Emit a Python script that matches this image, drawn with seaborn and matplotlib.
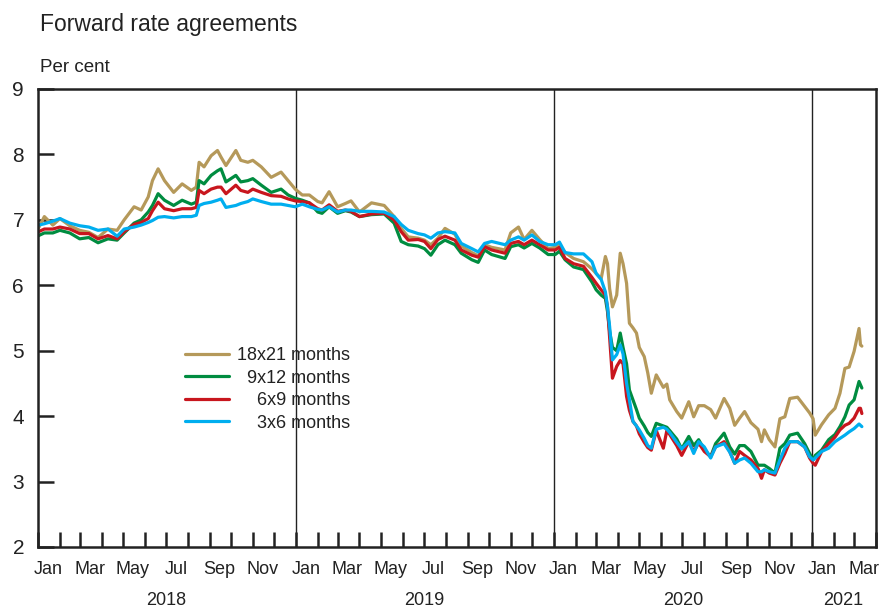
import pandas as pd
import numpy as np
import seaborn as sns
import matplotlib.pyplot as plt
import matplotlib.dates as mdates

# values (per cent)
dates = [
    "2018-01-02", "2018-01-10", "2018-01-22", "2018-02-01", "2018-02-15", "2018-03-01",
    "2018-03-14", "2018-03-27", "2018-04-10", "2018-04-23", "2018-05-03", "2018-05-17",
    "2018-05-27", "2018-06-06", "2018-06-12", "2018-06-20", "2018-06-29", "2018-07-12",
    "2018-07-24", "2018-08-06", "2018-08-13", "2018-08-17", "2018-08-24", "2018-09-03",
    "2018-09-12", "2018-09-17", "2018-09-24", "2018-10-08", "2018-10-15", "2018-10-25",
    "2018-11-01", "2018-11-13", "2018-11-27", "2018-12-11", "2018-12-21", "2018-12-31",
    "2019-01-10", "2019-01-20", "2019-02-01", "2019-02-07", "2019-02-17", "2019-03-01",
    "2019-03-12", "2019-03-20", "2019-04-01", "2019-04-18", "2019-05-06", "2019-05-20",
    "2019-05-30", "2019-06-09", "2019-06-23", "2019-07-02", "2019-07-11", "2019-07-21",
    "2019-07-31", "2019-08-14", "2019-08-23", "2019-09-07", "2019-09-16", "2019-09-25",
    "2019-10-05", "2019-10-24", "2019-11-01", "2019-11-12", "2019-11-20", "2019-12-01",
    "2019-12-12", "2019-12-24", "2020-01-03", "2020-01-09", "2020-01-17", "2020-01-29",
    "2020-02-12", "2020-02-24", "2020-03-01", "2020-03-08", "2020-03-14", "2020-03-17",
    "2020-03-20", "2020-03-24", "2020-03-30", "2020-04-04", "2020-04-08", "2020-04-13",
    "2020-04-17", "2020-04-22", "2020-04-27", "2020-05-01", "2020-05-08", "2020-05-13",
    "2020-05-18", "2020-05-25", "2020-06-04", "2020-06-09", "2020-06-13", "2020-06-23",
    "2020-06-30", "2020-07-10", "2020-07-17", "2020-07-24", "2020-08-01", "2020-08-10",
    "2020-08-17", "2020-08-29", "2020-09-06", "2020-09-13", "2020-09-20", "2020-09-27",
    "2020-10-06", "2020-10-16", "2020-10-21", "2020-10-25", "2020-11-01", "2020-11-09",
    "2020-11-16", "2020-11-23", "2020-11-30", "2020-12-11", "2020-12-21", "2020-12-28",
    "2021-01-02", "2021-01-05", "2021-01-14", "2021-01-24", "2021-02-02", "2021-02-09",
    "2021-02-16", "2021-02-22", "2021-03-01", "2021-03-08", "2021-03-10", "2021-03-12",
]

fra_18x21 = [
    6.88, 7.05, 6.92, 7.02, 6.91, 6.84, 6.81, 6.73, 6.86, 6.84, 7.00, 7.20,
    7.15, 7.35, 7.60, 7.78, 7.60, 7.42, 7.55, 7.45, 7.50, 7.88, 7.81, 7.98,
    8.06, 7.96, 7.83, 8.06, 7.91, 7.88, 7.91, 7.81, 7.65, 7.73, 7.60, 7.47,
    7.38, 7.38, 7.28, 7.26, 7.43, 7.20, 7.25, 7.29, 7.12, 7.26, 7.22, 7.05,
    6.87, 6.74, 6.72, 6.69, 6.62, 6.72, 6.87, 6.78, 6.60, 6.50, 6.45, 6.62,
    6.58, 6.54, 6.80, 6.89, 6.70, 6.84, 6.70, 6.56, 6.58, 6.62, 6.50, 6.41,
    6.36, 6.25, 6.18, 6.10, 6.44, 6.33, 5.95, 5.67, 5.85, 6.49, 6.33, 6.03,
    5.42, 5.35, 5.27, 5.05, 4.91, 4.66, 4.35, 4.63, 4.44, 4.49, 4.25, 4.07,
    3.97, 4.22, 3.99, 4.16, 4.16, 4.10, 3.97, 4.27, 4.12, 3.86, 3.97, 4.07,
    3.90, 3.80, 3.61, 3.79, 3.64, 3.53, 3.96, 3.99, 4.27, 4.29, 4.15, 4.05,
    3.96, 3.71, 3.87, 4.02, 4.12, 4.35, 4.73, 4.75, 4.99, 5.34, 5.09, 5.07,
]

fra_9x12 = [
    6.76, 6.80, 6.80, 6.84, 6.80, 6.71, 6.73, 6.65, 6.71, 6.69, 6.80, 6.95,
    7.00, 7.12, 7.22, 7.40, 7.30, 7.22, 7.30, 7.24, 7.27, 7.60, 7.55, 7.68,
    7.75, 7.78, 7.58, 7.68, 7.58, 7.60, 7.63, 7.53, 7.42, 7.47, 7.38, 7.33,
    7.30, 7.26, 7.12, 7.10, 7.20, 7.10, 7.14, 7.12, 7.05, 7.08, 7.09, 6.95,
    6.67, 6.62, 6.60, 6.56, 6.46, 6.62, 6.69, 6.62, 6.49, 6.39, 6.35, 6.54,
    6.47, 6.41, 6.59, 6.62, 6.57, 6.64, 6.57, 6.47, 6.47, 6.52, 6.39, 6.28,
    6.24, 6.05, 5.93, 5.85, 5.80, 5.60, 5.30, 5.05, 5.00, 5.27, 5.05, 4.80,
    4.40, 4.25, 4.10, 3.97, 3.85, 3.75, 3.69, 3.89, 3.85, 3.83, 3.78, 3.65,
    3.50, 3.69, 3.55, 3.64, 3.49, 3.38, 3.58, 3.74, 3.53, 3.42, 3.55, 3.55,
    3.46, 3.25, 3.25, 3.25, 3.20, 3.13, 3.51, 3.58, 3.71, 3.74, 3.58, 3.43,
    3.33, 3.40, 3.48, 3.64, 3.72, 3.84, 3.99, 4.17, 4.25, 4.53, 4.48, 4.43,
]

fra_6x9 = [
    6.82, 6.86, 6.86, 6.89, 6.86, 6.79, 6.79, 6.71, 6.76, 6.71, 6.82, 6.93,
    6.96, 7.02, 7.14, 7.27, 7.17, 7.14, 7.17, 7.17, 7.19, 7.45, 7.40, 7.47,
    7.50, 7.50, 7.40, 7.53, 7.45, 7.42, 7.47, 7.42, 7.37, 7.36, 7.32, 7.29,
    7.28, 7.26, 7.17, 7.15, 7.23, 7.13, 7.15, 7.13, 7.05, 7.09, 7.10, 7.00,
    6.82, 6.69, 6.70, 6.67, 6.56, 6.70, 6.75, 6.69, 6.54, 6.46, 6.43, 6.59,
    6.54, 6.49, 6.64, 6.67, 6.62, 6.69, 6.62, 6.54, 6.54, 6.58, 6.41, 6.33,
    6.29, 6.12, 6.03, 5.93, 5.85, 5.67, 5.21, 4.58, 4.76, 4.85, 4.80, 4.30,
    4.09, 3.92, 3.85, 3.73, 3.60, 3.52, 3.48, 3.78, 3.51, 3.78, 3.72, 3.55,
    3.40, 3.61, 3.46, 3.59, 3.46, 3.38, 3.53, 3.61, 3.46, 3.28, 3.46, 3.40,
    3.33, 3.20, 3.05, 3.18, 3.13, 3.10, 3.28, 3.43, 3.61, 3.61, 3.53, 3.36,
    3.28, 3.25, 3.46, 3.58, 3.68, 3.79, 3.86, 3.89, 3.97, 4.12, 4.12, 4.04,
]

fra_3x6 = [
    6.92, 6.94, 6.98, 7.02, 6.95, 6.91, 6.89, 6.84, 6.86, 6.75, 6.86, 6.89,
    6.92, 6.96, 6.99, 7.04, 7.05, 7.03, 7.05, 7.05, 7.07, 7.22, 7.25, 7.27,
    7.30, 7.32, 7.19, 7.22, 7.25, 7.28, 7.32, 7.28, 7.24, 7.24, 7.22, 7.20,
    7.24, 7.20, 7.16, 7.15, 7.20, 7.12, 7.15, 7.15, 7.13, 7.13, 7.12, 7.05,
    6.93, 6.84, 6.79, 6.77, 6.72, 6.80, 6.82, 6.80, 6.64, 6.56, 6.51, 6.64,
    6.67, 6.62, 6.69, 6.74, 6.69, 6.77, 6.67, 6.62, 6.62, 6.66, 6.50, 6.48,
    6.48, 6.36, 6.18, 6.09, 5.90, 5.67, 5.37, 4.86, 4.94, 5.09, 4.95, 4.50,
    4.25, 3.92, 3.85, 3.79, 3.66, 3.55, 3.51, 3.80, 3.83, 3.80, 3.75, 3.60,
    3.50, 3.61, 3.43, 3.61, 3.53, 3.36, 3.53, 3.58, 3.45, 3.28, 3.33, 3.36,
    3.28, 3.15, 3.15, 3.18, 3.15, 3.13, 3.33, 3.51, 3.61, 3.61, 3.53, 3.38,
    3.33, 3.36, 3.46, 3.51, 3.61, 3.66, 3.71, 3.76, 3.81, 3.88, 3.86, 3.84,
]

series_names = ["18x21 months", "9x12 months", "6x9 months", "3x6 months"]
legend_labels = ["18x21 months", "  9x12 months", "    6x9 months", "    3x6 months"]
colors = ["#b5995a", "#008c40", "#c8161e", "#00aeef"]
year_labels = ["2018", "2019", "2020", "2021"]

df = pd.DataFrame({
    "date": pd.to_datetime(dates),
    series_names[0]: fra_18x21,
    series_names[1]: fra_9x12,
    series_names[2]: fra_6x9,
    series_names[3]: fra_3x6,
})
long_df = df.melt(id_vars="date", var_name="series", value_name="rate")

sns.set_style("white")
plt.rcParams["font.family"] = ["Liberation Sans", "DejaVu Sans"]
text_col = "#222222"

fig = plt.figure(figsize=(8.8, 6.1), dpi=100)
ax = fig.add_axes([38 / 880, 1 - 547 / 610, 838 / 880, 458 / 610])

sns.lineplot(data=long_df, x="date", y="rate", hue="series", hue_order=series_names,
             palette=colors, linewidth=2.3, legend=False, ax=ax)

# year dividers
for yr in year_labels[1:]:
    ax.axvline(pd.Timestamp(f"{yr}-01-01"), color="#222222", linewidth=1.0, zorder=1)

ax.set_xlim(pd.Timestamp("2018-01-01"), pd.Timestamp("2021-04-01"))
ax.set_ylim(2, 9)
ax.set_yticks(range(2, 10))
ax.set_xlabel("")
ax.set_ylabel("")

# month ticks at boundaries, labels at mid-month for odd months
ax.xaxis.set_minor_locator(mdates.MonthLocator())
label_pos = pd.date_range("2018-01-01", "2021-03-01", freq="2MS") + pd.Timedelta(days=14)
ax.set_xticks(label_pos)
ax.xaxis.set_major_formatter(mdates.DateFormatter("%b"))
ax.tick_params(axis="x", which="major", bottom=True, length=0, pad=10, labelsize=13,
               labelcolor=text_col)
ax.tick_params(axis="x", which="minor", bottom=True, direction="in", length=11, width=1.8,
               color="#222222")
ax.tick_params(axis="y", which="major", left=True, direction="in", length=11.5, width=1.8,
               color="#222222", pad=10, labelsize=15, labelcolor=text_col)

for s in ax.spines.values():
    s.set_visible(True)
    s.set_color("#222222")
    s.set_linewidth(1.8)

year_mid = ["2018-07-02", "2019-07-02", "2020-07-02", "2021-02-14"]
for lab, mid in zip(year_labels, year_mid):
    ax.text(pd.Timestamp(mid), -0.116, lab, transform=ax.get_xaxis_transform(),
            ha="center", va="center", fontsize=13, color=text_col)

handles = ax.get_lines()[:4]
leg = ax.legend(handles, legend_labels, loc="upper left", bbox_to_anchor=(0.176, 0.436),
                frameon=False, fontsize=13, handlelength=2.4, handletextpad=0.45,
                labelspacing=0.3, borderpad=0, borderaxespad=0)
for t in leg.get_texts():
    t.set_color(text_col)

fig.text(40 / 880, 1 - 25 / 610, "Forward rate agreements", ha="left", va="center",
         fontsize=16.5, color=text_col)
fig.text(40 / 880, 1 - 67 / 610, "Per cent", ha="left", va="center",
         fontsize=13.5, color=text_col)

fig.savefig("out.png", dpi=100)
